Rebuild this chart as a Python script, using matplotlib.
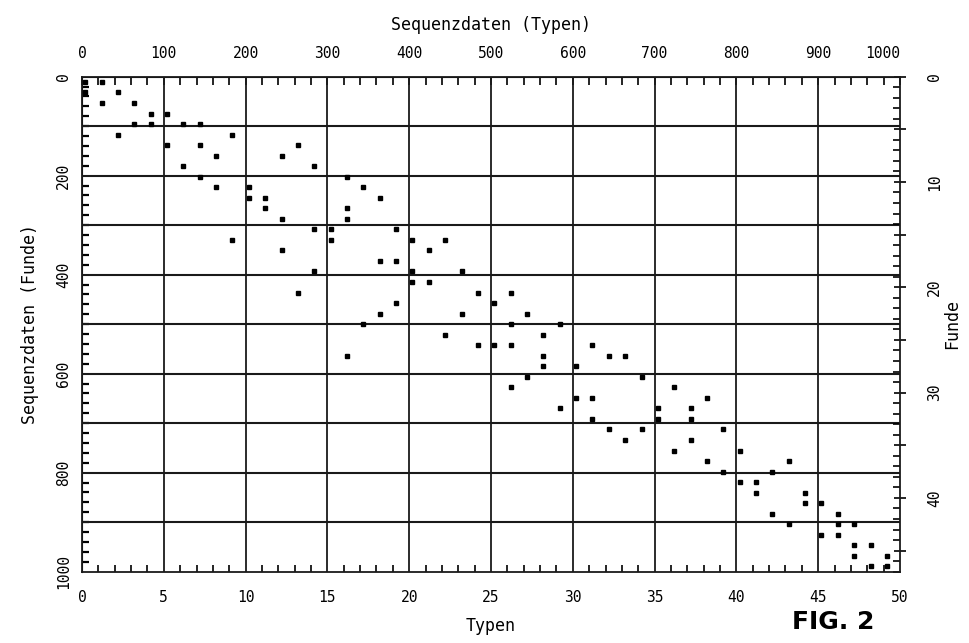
import matplotlib
matplotlib.use("Agg")
import matplotlib.pyplot as plt
from matplotlib.ticker import MultipleLocator, FuncFormatter

plt.rcParams['font.family'] = ['DejaVu Sans Mono', 'DejaVu Sans']

# seriation matrix: for every find (Fund 1..47) the types (Typ 1..50) present
n_typen = 50
n_funde = 47
funde_typen = {
    1: [1, 2],
    2: [1, 3],
    3: [2, 4],
    4: [5, 6],
    5: [4, 5, 7, 8],
    6: [3, 10],
    7: [6, 8, 14],
    8: [9, 13],
    9: [7, 15],
    10: [8, 17],
    11: [9, 11, 18],
    12: [11, 12, 19],
    13: [12, 17],
    14: [13, 17],
    15: [15, 16, 20],
    16: [10, 16, 21, 23],
    17: [13, 22],
    18: [19, 20],
    19: [15, 21, 24],
    20: [21, 22],
    21: [14, 25, 27],
    22: [20, 26],
    23: [19, 24, 28],
    24: [18, 27, 30],
    25: [23, 29],
    26: [25, 26, 27, 32],
    27: [17, 29, 33, 34],
    28: [29, 31],
    29: [28, 35],
    30: [27, 37],
    31: [31, 32, 39],
    32: [30, 36, 38],
    33: [32, 36, 38],
    34: [33, 35, 40],
    35: [34, 38],
    36: [37, 41],
    37: [39, 44],
    38: [40, 43],
    39: [41, 42],
    40: [42, 45],
    41: [45, 46],
    42: [43, 47],
    43: [44, 47, 48],
    44: [46, 47],
    45: [48, 49],
    46: [48, 50],
    47: [49, 50],
}

typ = []
fund = []
for f, ts in funde_typen.items():
    for t in ts:
        typ.append(t)
        fund.append(f)

fig = plt.figure(figsize=(9.69, 6.43), dpi=100)
ax = fig.add_axes([0.0846, 0.111, 0.8442, 0.7698])
ax.set_xlim(0, n_typen)
ax.set_ylim(n_funde, 0)

# grid
for v in range(5, n_typen, 5):
    ax.axvline(v, color='#1a1a1a', lw=1.3, zorder=1)
for v in range(100, 1000, 100):
    ax.axhline(v * n_funde / 1000, color='#1a1a1a', lw=1.5, zorder=1)

ax.plot([t - 0.8 for t in typ], [f - 0.5 for f in fund], ls='none', marker='s',
        ms=3.2, mfc='black', mec='black', zorder=3)

for sp in ax.spines.values():
    sp.set_linewidth(1.3)
    sp.set_color('#1a1a1a')

# bottom axis: Typen
ax.set_xticks(range(0, n_typen + 1, 5))
ax.xaxis.set_minor_locator(MultipleLocator(1))
ax.tick_params(axis='x', which='major', direction='in', length=0, labelsize=10.5, pad=13)
ax.tick_params(axis='x', which='minor', direction='in', length=5, width=1.2)
ax.set_xlabel('Typen', fontsize=12, labelpad=9)

# right axis: Funde
ax.yaxis.tick_right()
ax.yaxis.set_label_position('right')
ax.set_yticks(range(0, n_funde, 5))
ax.yaxis.set_minor_locator(MultipleLocator(1))
ax.yaxis.set_major_formatter(FuncFormatter(lambda v, p: '%d' % v if v % 10 == 0 else ''))
ax.tick_params(axis='y', which='major', direction='inout', length=9, width=1.2,
               labelsize=10.5, pad=15, labelrotation=90)
ax.tick_params(axis='y', which='minor', direction='in', length=5, width=1.2)
for lab in ax.get_yticklabels():
    lab.set_va('center')
ax.set_ylabel('Funde', fontsize=12, rotation=90, labelpad=1)

# top axis: Sequenzdaten (Typen)
secx = ax.secondary_xaxis('top', functions=(lambda x: x * 1000 / n_typen,
                                            lambda x: x * n_typen / 1000))
secx.set_xticks(range(0, 1001, 100))
secx.xaxis.set_minor_locator(MultipleLocator(20))
secx.tick_params(axis='x', which='major', direction='in', length=6, width=1.2,
                 labelsize=10.5, pad=11)
secx.tick_params(axis='x', which='minor', direction='in', length=6, width=1.2)
secx.get_xticklabels()[-1].set_ha('right')
secx.set_xlabel('Sequenzdaten (Typen)', fontsize=12, labelpad=12)

# left axis: Sequenzdaten (Funde)
secy = ax.secondary_yaxis('left', functions=(lambda y: y * 1000 / n_funde,
                                             lambda y: y * n_funde / 1000))
secy.set_yticks(range(0, 1001, 200))
secy.yaxis.set_minor_locator(MultipleLocator(20))
secy.tick_params(axis='y', which='major', direction='in', length=0, labelsize=10.5,
                 pad=8, labelrotation=90)
secy.tick_params(axis='y', which='minor', direction='in', length=5, width=1.6)
for lab in secy.get_yticklabels():
    lab.set_va('center')
secy.set_ylabel('Sequenzdaten (Funde)', fontsize=12, labelpad=12)

fig.text(0.8597, 0.033, 'FIG. 2', fontsize=18, fontweight='bold', ha='center', va='center',
         family=['Liberation Sans Narrow', 'DejaVu Sans'])

fig.savefig('out.png', dpi=100, facecolor='white')
